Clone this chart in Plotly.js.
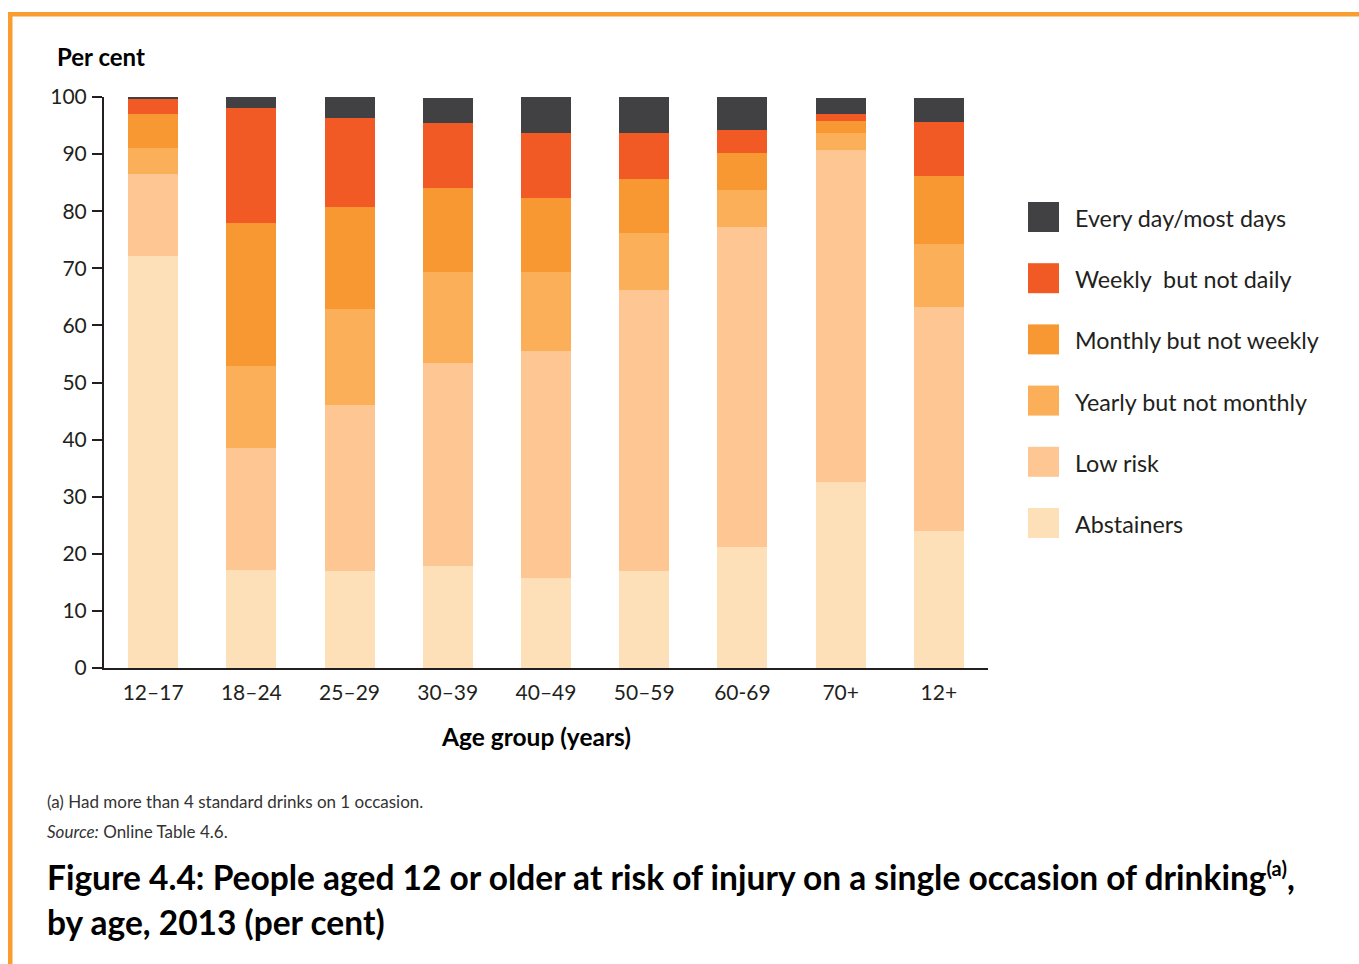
<!DOCTYPE html>
<html>
<head>
<meta charset="utf-8">
<script src="https://cdn.plot.ly/plotly-3.0.1.min.js"></script>
<style>
  html, body { margin: 0; padding: 0; background: #ffffff; }
  #chart { width: 1359px; height: 964px; }
</style>
</head>
<body>
<div id="chart"></div>
<script>
// ---------- data ----------
var categories = ["12–17", "18–24", "25–29", "30–39", "40–49", "50–59", "60-69", "70+", "12+"];
var abstainers = [72.2, 17.2, 17.0, 17.9, 15.8, 17.0, 21.2, 32.6, 24.0];
var lowRisk    = [14.3, 21.4, 29.1, 35.5, 39.7, 49.2, 56.0, 58.1, 39.2];
var yearly     = [4.6, 14.3, 16.8, 16.0, 13.9, 10.0, 6.5, 3.0, 11.1];
var monthly    = [5.9, 25.0, 17.8, 14.7, 12.9, 9.4, 6.5, 2.1, 11.9];
var weekly     = [2.6, 20.2, 15.6, 11.3, 11.4, 8.1, 4.0, 1.2, 9.4];
var daily      = [0.4, 1.9, 3.7, 4.4, 6.3, 6.3, 5.8, 2.8, 4.2];

var seriesNames  = ["Abstainers", "Low risk", "Yearly but not monthly", "Monthly but not weekly", "Weekly  but not daily", "Every day/most days"];
var seriesValues = [abstainers, lowRisk, yearly, monthly, weekly, daily];
var seriesColors = ["#FDE0B8", "#FDC692", "#FBAF59", "#F79832", "#F15A24", "#414042"];

var yTickVals = [0, 10, 20, 30, 40, 50, 60, 70, 80, 90, 100];

// ---------- layout geometry (pixels) ----------
var W = 1359, H = 964;
var L = 104, R = 988, T = 97, B = 668;
function px(x) { return (x - L) / (R - L); }
function py(y) { return (B - y) / (B - T); }

var FONT = "Lato, 'Open Sans', sans-serif";
var TXT = "#231F20";

var traces = seriesNames.map(function (name, i) {
  return {
    type: "bar",
    name: name,
    x: categories,
    y: seriesValues[i],
    marker: { color: seriesColors[i], line: { width: 0 } },
    showlegend: false,
    hoverinfo: "x+y+name"
  };
});

var shapes = [];
var annotations = [];

// Orange frame (top and left)
shapes.push({ type: "rect", xref: "paper", yref: "paper",
  x0: px(8), x1: px(1359), y0: py(16.5), y1: py(12), fillcolor: "#F99D31", line: { width: 0 }, layer: "above" });
shapes.push({ type: "rect", xref: "paper", yref: "paper",
  x0: px(8), x1: px(12.5), y0: py(964), y1: py(12), fillcolor: "#F99D31", line: { width: 0 }, layer: "above" });

// Custom legend (top to bottom: reverse stack order)
for (var k = 0; k < seriesNames.length; k++) {
  var idx = seriesNames.length - 1 - k;
  var itemTop = 202 + k * 61.2;
  shapes.push({ type: "rect", xref: "paper", yref: "paper",
    x0: px(1028), x1: px(1059), y0: py(itemTop + 30), y1: py(itemTop),
    fillcolor: seriesColors[idx], line: { width: 0 } });
  annotations.push({ xref: "paper", yref: "paper", x: px(1073), y: py(itemTop + 16),
    xanchor: "left", yanchor: "middle", showarrow: false,
    text: seriesNames[idx], font: { family: FONT, size: 23.3, color: TXT } });
}

// Y axis title
annotations.push({ xref: "paper", yref: "paper", x: px(55), y: py(56), xanchor: "left", yanchor: "middle",
  showarrow: false, text: "<b>Per cent</b>", font: { family: FONT, size: 24, color: "#000" } });
// X axis title
annotations.push({ xref: "paper", yref: "paper", x: px(536), y: py(736), xanchor: "center", yanchor: "middle",
  showarrow: false, text: "<b>Age group (years)</b>", font: { family: FONT, size: 24.5, color: "#000" } });
// Footnotes
annotations.push({ xref: "paper", yref: "paper", x: px(45), y: py(801), xanchor: "left", yanchor: "middle",
  showarrow: false, text: "(a) Had more than 4 standard drinks on 1 occasion.", font: { family: FONT, size: 17, color: "#333" } });
annotations.push({ xref: "paper", yref: "paper", x: px(45), y: py(831), xanchor: "left", yanchor: "middle",
  showarrow: false, text: "<i>Source:</i> Online Table 4.6.", font: { family: FONT, size: 17, color: "#333" } });
// Figure caption
annotations.push({ xref: "paper", yref: "paper", x: px(45), y: py(876), xanchor: "left", yanchor: "middle",
  showarrow: false, text: "<b>Figure 4.4: People aged 12 or older at risk of injury on a single occasion of drinking<sup><span style=\"font-size:20px\">(a)</span></sup>,</b>",
  font: { family: FONT, size: 33.5, color: "#000" } });
annotations.push({ xref: "paper", yref: "paper", x: px(45), y: py(922), xanchor: "left", yanchor: "middle",
  showarrow: false, text: "<b>by age, 2013 (per cent)</b>",
  font: { family: FONT, size: 33.5, color: "#000" } });

var layout = {
  width: W, height: H,
  margin: { l: L, r: W - R, t: T, b: H - B, pad: 0 },
  paper_bgcolor: "#ffffff", plot_bgcolor: "#ffffff",
  barmode: "stack",
  bargap: 0.49,
  showlegend: false,
  font: { family: FONT, color: TXT },
  xaxis: {
    type: "category",
    showline: true, linecolor: TXT, linewidth: 2,
    ticks: "", showgrid: false, zeroline: false,
    tickfont: { family: FONT, size: 21, color: TXT },
    ticklabelstandoff: 5
  },
  yaxis: {
    range: [0, 100],
    tickvals: yTickVals,
    ticktext: yTickVals.map(String),
    showline: true, linecolor: TXT, linewidth: 2,
    ticks: "outside", ticklen: 10, tickwidth: 2, tickcolor: TXT,
    showgrid: false, zeroline: false,
    tickfont: { family: FONT, size: 21, color: TXT },
    ticklabelstandoff: 1
  },
  shapes: shapes,
  annotations: annotations
};

Plotly.newPlot("chart", traces, layout, { displayModeBar: false, staticPlot: true });
</script>
</body>
</html>
